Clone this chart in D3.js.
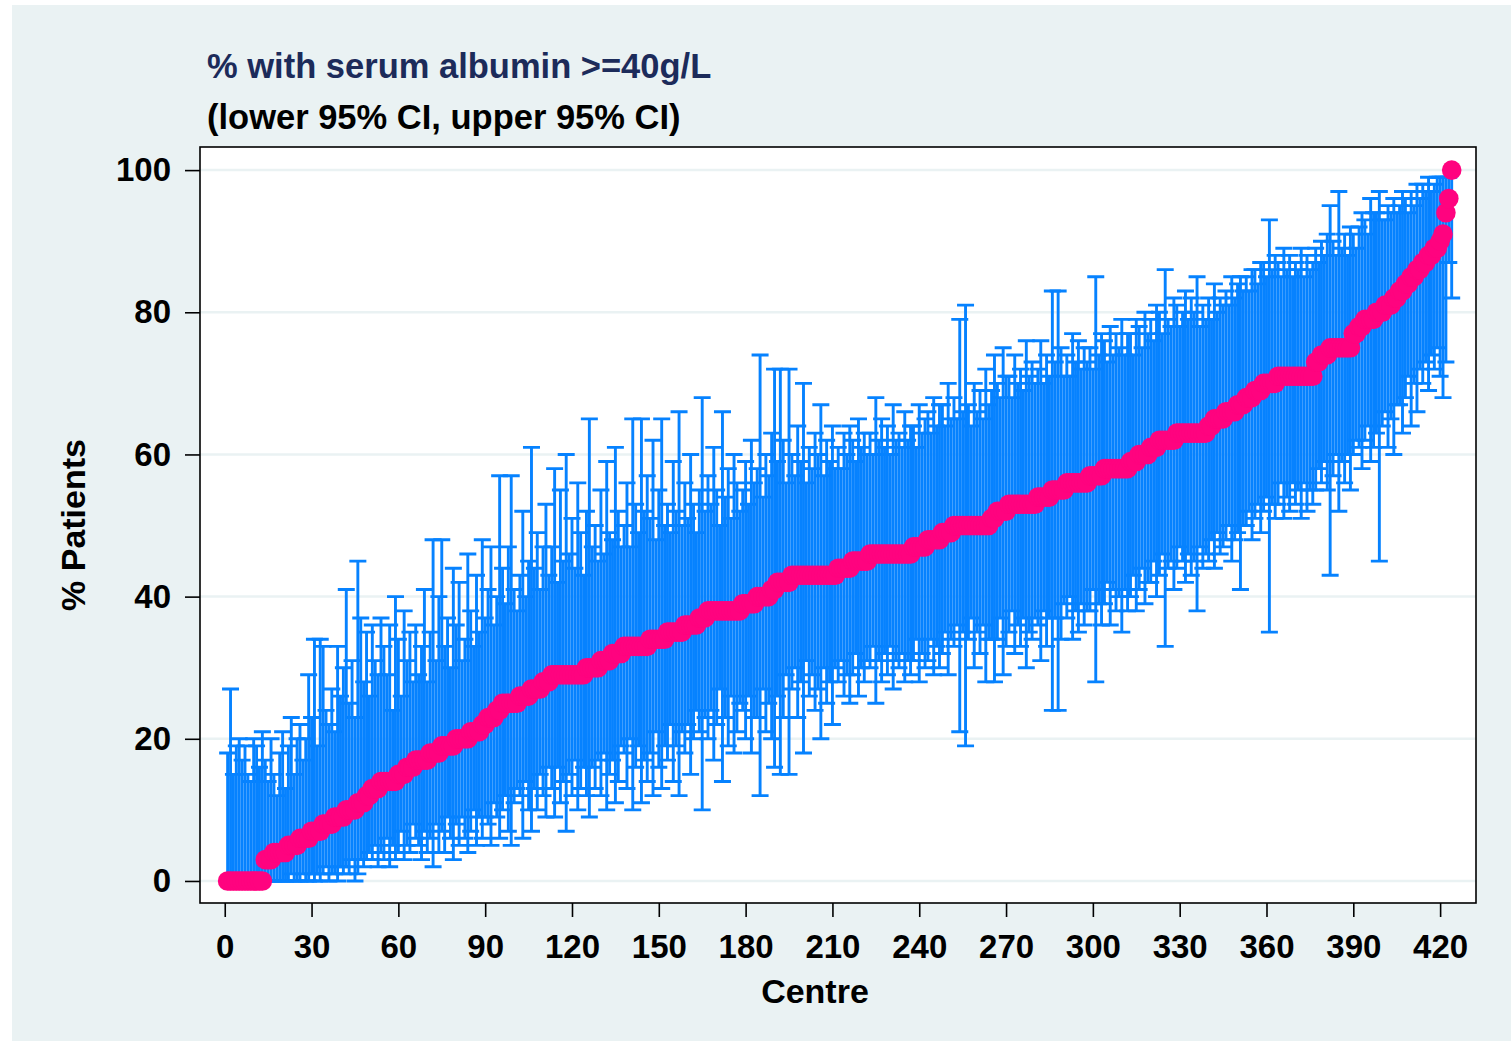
<!DOCTYPE html>
<html>
<head>
<meta charset="utf-8">
<script src="https://cdn.jsdelivr.net/npm/d3@7"></script>
<style>
  body { margin: 0; background: #ffffff; }
  text { font-family: "Liberation Sans", Arial, Helvetica, sans-serif; font-weight: bold; }
</style>
</head>
<body>
<svg id="chart" width="1511" height="1041"></svg>
<script>
// ---------------- DATA ----------------
const titleLine1 = "% with serum albumin >=40g/L";
const titleLine2 = "(lower 95% CI, upper 95% CI)";
const yTitle = "% Patients";
const xTitle = "Centre";
const xTickValues = [0, 30, 60, 90, 120, 150, 180, 210, 240, 270, 300, 330, 360, 390, 420];
const yTickValues = [0, 20, 40, 60, 80, 100];

// % of patients per centre (centres ranked 1..424)
const pct = [
  0,0,0,0,0,0,0,0,0,0,0,0,0,
  3,3,3,
  4,4,4,4,4,
  5,5,5,5,
  6,6,6,6,
  7,7,7,7,
  8,8,8,8,
  9,9,9,9,
  10,10,10,10,
  11,11,11,
  12,12,
  13,13,13,
  14,14,14,14,14,14,
  15,15,15,
  16,16,16,
  17,17,17,17,17,
  18,18,18,18,
  19,19,19,19,19,
  20,20,20,20,20,
  21,21,21,21,
  22,22,
  23,23,23,
  24,24,
  25,25,25,25,25,25,
  26,26,26,26,
  27,27,27,27,
  28,28,28,
  29,29,29,29,29,29,29,29,29,29,29,29,
  30,30,30,30,30,
  31,31,31,31,
  32,32,32,32,
  33,33,33,33,33,33,33,33,33,
  34,34,34,34,34,34,
  35,35,35,35,35,35,
  36,36,36,36,36,
  37,37,37,
  38,38,38,38,38,38,38,38,38,38,38,38,
  39,39,39,39,39,
  40,40,40,40,40,
  41,41,
  42,42,42,42,42,
  43,43,43,43,43,43,43,43,43,43,43,43,43,43,43,43,
  44,44,44,44,44,
  45,45,45,45,45,45,
  46,46,46,46,46,46,46,46,46,46,46,46,46,46,46,
  47,47,47,47,47,
  48,48,48,48,48,
  49,49,49,49,
  50,50,50,50,50,50,50,50,50,50,50,50,50,
  51,51,
  52,52,52,52,
  53,53,53,53,53,53,53,53,53,53,
  54,54,54,54,54,
  55,55,55,55,55,
  56,56,56,56,56,56,56,56,
  57,57,57,57,57,
  58,58,58,58,58,58,58,58,58,
  59,59,59,
  60,60,60,60,
  61,61,61,
  62,62,62,62,62,62,
  63,63,63,63,63,63,63,63,63,63,63,
  64,64,
  65,65,65,65,
  66,66,66,66,
  67,67,67,
  68,68,68,
  69,69,69,
  70,70,70,70,70,
  71,71,71,71,71,71,71,71,71,71,71,71,71,
  73,73,
  74,74,74,
  75,75,75,75,75,75,75,75,
  77,77,
  78,78,
  79,79,79,79,
  80,80,80,
  81,81,81,
  82,82,
  83,83,
  84,84,
  85,85,
  86,86,
  87,87,
  88,88,
  89,89,
  90,
  91,
  94,
  96,
  100
];

// lower 95% CI per centre
const lower = [
  0,0,0,0,0,0,0,0,0,0,0,0,0,
  0,0,0,
  0,0,0,0,0,
  0,1,0,0,
  0,1,0,0,
  1,0,1,0,
  1,2,0,1,
  1,0,2,1,
  2,1,3,0,
  1,3,2,
  3,4,
  3,5,2,
  4,3,6,2,5,3,
  4,7,3,
  5,4,8,
  6,5,3,7,4,
  6,2,8,4,
  7,4,9,6,3,
  8,5,9,6,4,
  7,10,5,9,
  6,9,
  8,5,11,
  9,6,
  10,12,7,5,11,13,
  12,6,14,10,
  7,13,10,15,
  12,9,16,
  13,9,16,11,14,7,15,12,17,10,13,16,
  12,9,16,13,17,
  12,18,10,15,
  17,11,14,19,
  18,13,20,10,16,19,11,17,14,
  18,12,21,16,13,19,
  17,22,14,19,12,21,
  18,22,15,20,24,
  21,10,23,
  20,24,17,22,27,14,23,19,26,18,21,25,
  24,20,26,18,23,
  23,12,27,21,25,
  20,16,
  26,15,23,29,15,
  27,30,23,28,18,31,26,29,24,27,20,30,25,28,22,30,
  28,31,26,29,25,
  29,32,26,30,28,31,
  30,33,25,31,28,32,29,33,27,31,30,32,28,31,29,
  31,34,28,32,30,
  31,34,29,33,30,
  32,35,29,34,
  33,36,21,35,19,34,37,30,35,32,36,28,34,
  34,28,
  34,37,29,33,
  35,38,32,36,33,37,30,35,34,37,
  36,31,38,33,37,
  24,37,24,34,39,
  37,40,34,38,35,39,36,38,
  38,41,28,39,36,
  39,42,36,41,38,40,35,41,38,
  40,43,38,
  41,44,39,42,
  42,45,40,
  43,46,33,44,45,41,
  44,47,45,42,46,43,45,38,47,44,46,
  45,48,
  44,49,46,47,
  48,50,45,48,
  49,41,50,
  50,52,48,
  51,53,49,
  52,54,35,53,51,
  53,56,51,54,52,56,53,55,51,56,52,55,53,
  55,58,
  56,59,55,
  43,57,60,52,59,56,60,55,
  60,62,
  61,58,
  62,64,59,61,
  63,45,64,
  66,61,65,
  60,67,
  67,63,
  68,71,
  64,70,
  66,72,
  70,73,
  69,74,
  72,75,
  71,
  68,
  73,
  87,
  82
];

// upper 95% CI per centre
const upper = [
  18,27,15,19,20,17,19,15,14,20,19,16,21,
  17,14,20,
  15,12,18,21,13,
  19,23,15,20,
  22,17,20,29,
  23,34,19,34,
  33,24,22,27,
  21,33,26,30,
  41,25,31,23,
  45,37,28,
  35,26,
  36,31,29,
  37,33,29,36,24,40,
  34,26,38,
  31,35,28,
  36,29,33,41,28,
  35,48,31,40,
  48,33,37,30,44,
  36,42,31,34,46,
  38,33,43,35,
  48,37,
  41,47,36,
  40,57,
  44,39,47,57,41,38,
  43,52,40,45,
  61,44,49,41,
  47,53,43,
  47,58,42,55,45,60,46,51,44,56,49,43,
  52,65,47,50,45,
  55,46,59,49,
  48,61,52,47,
  50,56,47,65,53,49,65,52,57,
  51,62,48,55,65,50,
  53,49,59,52,66,50,
  56,51,60,53,49,
  55,68,52,
  57,53,61,55,50,66,54,58,51,60,56,52,
  55,59,53,62,56,
  58,74,54,60,57,
  63,72,
  59,72,62,56,72,
  60,57,64,59,70,56,61,58,63,60,67,57,62,59,64,58,
  61,58,63,60,64,
  62,59,65,61,63,60,
  63,60,68,62,65,61,64,60,67,62,63,61,66,62,64,
  64,61,67,63,65,
  66,63,68,64,67,
  67,64,70,65,
  68,65,79,66,81,67,64,70,66,69,65,72,67,
  69,74,
  70,68,75,71,
  71,68,74,70,72,69,76,71,73,70,
  72,76,70,74,71,
  83,73,83,75,71,
  74,71,77,73,76,72,75,73,
  75,72,85,74,77,
  76,73,78,74,77,75,79,74,77,
  77,74,79,
  78,75,80,77,
  79,76,81,
  80,77,86,79,78,82,
  81,78,80,83,79,82,80,85,78,81,79,
  82,79,
  84,80,82,81,
  83,81,85,82,
  84,85,83,
  85,83,86,
  86,84,87,
  87,85,93,86,88,
  87,85,89,86,88,85,87,86,89,85,88,86,87,
  89,87,
  90,88,91,
  95,90,88,97,89,91,88,92,
  91,89,
  92,94,
  93,91,96,94,
  94,97,93,
  93,95,94,
  96,94,
  95,97,
  96,94,
  97,95,
  98,96,
  98,97,
  99,97,
  98,99,
  99,
  99,
  99,
  99,
  100
];

// ---------------- DRAWING ----------------
const W = 1511, H = 1041;
const plot = { left: 200, right: 1476, top: 147, bottom: 903 };
const bgColor = "#eaf2f3";
const barColor = "#0682ff";
const dotColor = "#ff037f";
const titleColor = "#1c2b5a";

const n = Math.min(pct.length, lower.length, upper.length);
const data = d3.range(n).map(i => ({ centre: i + 1, p: pct[i], lo: lower[i], hi: upper[i] }));

const svg = d3.select("#chart");

// outer background
svg.append("rect").attr("x", 12).attr("y", 5).attr("width", W - 12).attr("height", H - 5).attr("fill", bgColor);
// plot region
svg.append("rect").attr("x", plot.left).attr("y", plot.top)
  .attr("width", plot.right - plot.left).attr("height", plot.bottom - plot.top).attr("fill", "#ffffff");

const x = d3.scaleLinear().domain([-8.55, 432.4]).range([plot.left, plot.right]);
const y = d3.scaleLinear().domain([-3.1, 103.25]).range([plot.bottom, plot.top]);

// grid lines
svg.append("g").selectAll("line").data(yTickValues).join("line")
  .attr("x1", plot.left).attr("x2", plot.right)
  .attr("y1", d => y(d)).attr("y2", d => y(d))
  .attr("stroke", bgColor).attr("stroke-width", 2.5);

// error bars
const capHalf = 8.5;
const bars = svg.append("g").attr("stroke", barColor).attr("stroke-width", 2.9).attr("fill", "none");
bars.selectAll("path").data(data).join("path")
  .attr("d", d => {
    const cx = x(d.centre), y1 = y(d.lo), y2 = y(d.hi);
    return `M${cx},${y1}V${y2}M${cx - capHalf},${y1}H${cx + capHalf}M${cx - capHalf},${y2}H${cx + capHalf}`;
  });

// points
svg.append("g").selectAll("circle").data(data).join("circle")
  .attr("cx", d => x(d.centre)).attr("cy", d => y(d.p)).attr("r", 9.8)
  .attr("fill", dotColor);

// frame
svg.append("rect").attr("x", plot.left).attr("y", plot.top)
  .attr("width", plot.right - plot.left).attr("height", plot.bottom - plot.top)
  .attr("fill", "none").attr("stroke", "#000").attr("stroke-width", 1.6);

// axes
const yAxis = svg.append("g").attr("transform", `translate(${plot.left},0)`)
  .call(d3.axisLeft(y).tickValues(yTickValues).tickSize(15).tickPadding(14));
const xAxis = svg.append("g").attr("transform", `translate(0,${plot.bottom})`)
  .call(d3.axisBottom(x).tickValues(xTickValues).tickSize(14).tickPadding(18));
[yAxis, xAxis].forEach(g => {
  g.select(".domain").remove();
  g.selectAll(".tick line").attr("stroke", "#000").attr("stroke-width", 1.6);
  g.selectAll(".tick text").attr("fill", "#000").style("font-size", "33px")
    .style("font-family", "'Liberation Sans', Arial, sans-serif").style("font-weight", "bold");
});

// titles
svg.append("text").attr("x", 207).attr("y", 78).attr("fill", titleColor)
  .style("font-size", "34.5px").text(titleLine1);
svg.append("text").attr("x", 207).attr("y", 129).attr("fill", "#000")
  .style("font-size", "34.5px").text(titleLine2);

// axis titles
svg.append("text").attr("x", 815).attr("y", 1003).attr("text-anchor", "middle").attr("fill", "#000")
  .style("font-size", "34px").text(xTitle);
svg.append("text").attr("transform", `translate(85,${(plot.top + plot.bottom) / 2}) rotate(-90)`)
  .attr("text-anchor", "middle").attr("fill", "#000")
  .style("font-size", "34px").text(yTitle);
</script>
</body>
</html>
